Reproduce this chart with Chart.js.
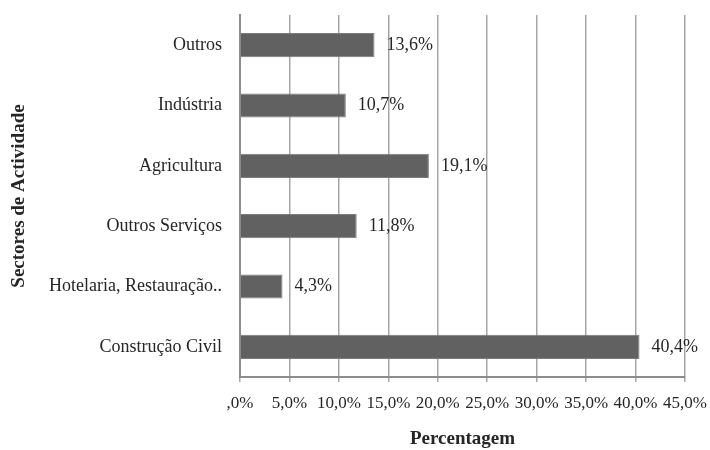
<!DOCTYPE html>
<html>
<head>
<meta charset="utf-8">
<script src="https://cdn.jsdelivr.net/npm/chart.js@4"></script>
<style>
  html, body { margin: 0; padding: 0; background: #fff; }
  #wrap { width: 710px; height: 450px; }
</style>
</head>
<body>
<div id="wrap"><canvas id="sectorChart" width="710" height="450"></canvas></div>
<script>
// Sectores de actividade - percentagem
const sectors = ['Outros', 'Indústria', 'Agricultura', 'Outros Serviços', 'Hotelaria, Restauração..', 'Construção Civil'];
const shares = [13.6, 10.7, 19.1, 11.8, 4.3, 40.4];
const xTickLabels = [',0%', '5,0%', '10,0%', '15,0%', '20,0%', '25,0%', '30,0%', '35,0%', '40,0%', '45,0%'];

const serif = "'Liberation Serif', 'Times New Roman', serif";

function fmtPct(v) {
  return v.toFixed(1).replace('.', ',') + '%';
}

// draws the value next to each bar
const barLabels = {
  id: 'barLabels',
  afterDatasetsDraw(chart) {
    const ctx = chart.ctx;
    const meta = chart.getDatasetMeta(0);
    ctx.save();
    ctx.font = '18px ' + serif;
    ctx.fillStyle = '#262626';
    ctx.textAlign = 'left';
    ctx.textBaseline = 'middle';
    meta.data.forEach((bar, i) => {
      ctx.fillText(fmtPct(shares[i]), bar.x + 12, bar.y);
    });
    ctx.restore();
  }
};

new Chart(document.getElementById('sectorChart'), {
  type: 'bar',
  data: {
    labels: sectors,
    datasets: [{
      data: shares,
      backgroundColor: '#616161',
      borderColor: '#7c7c7c',
      borderWidth: 1,
      barPercentage: 0.4,
      categoryPercentage: 1
    }]
  },
  plugins: [barLabels],
  options: {
    indexAxis: 'y',
    responsive: false,
    animation: false,
    layout: { padding: { top: 15, right: 25, left: 0, bottom: 0 } },
    plugins: {
      legend: { display: false },
      tooltip: { enabled: false }
    },
    scales: {
      x: {
        min: 0,
        max: 45,
        afterFit(scale) {
          scale.height = 73;
          scale.paddingLeft = 0;
          scale.paddingRight = 0;
        },
        ticks: {
          stepSize: 5,
          padding: 11,
          color: '#262626',
          font: { family: serif, size: 17 },
          maxRotation: 0,
          autoSkip: false,
          callback: (v, i) => xTickLabels[i]
        },
        grid: { color: '#a6a6a6', lineWidth: 1.5, tickLength: 5 },
        border: { color: '#8c8c8c', width: 2 },
        title: {
          display: true,
          text: 'Percentagem',
          color: '#262626',
          font: { family: serif, size: 19, weight: 'bold' },
          padding: { top: 10, bottom: 0 }
        }
      },
      y: {
        afterFit(scale) {
          scale.width = 240;
          scale.paddingTop = 0;
          scale.paddingBottom = 0;
        },
        ticks: {
          padding: 10,
          color: '#262626',
          font: { family: serif, size: 18 }
        },
        grid: { display: false },
        border: { color: '#8c8c8c', width: 2 },
        title: {
          display: true,
          text: 'Sectores de Actividade',
          color: '#262626',
          font: { family: serif, size: 19, weight: 'bold' },
          padding: { top: 8, bottom: 0 }
        }
      }
    }
  }
});
</script>
</body>
</html>
